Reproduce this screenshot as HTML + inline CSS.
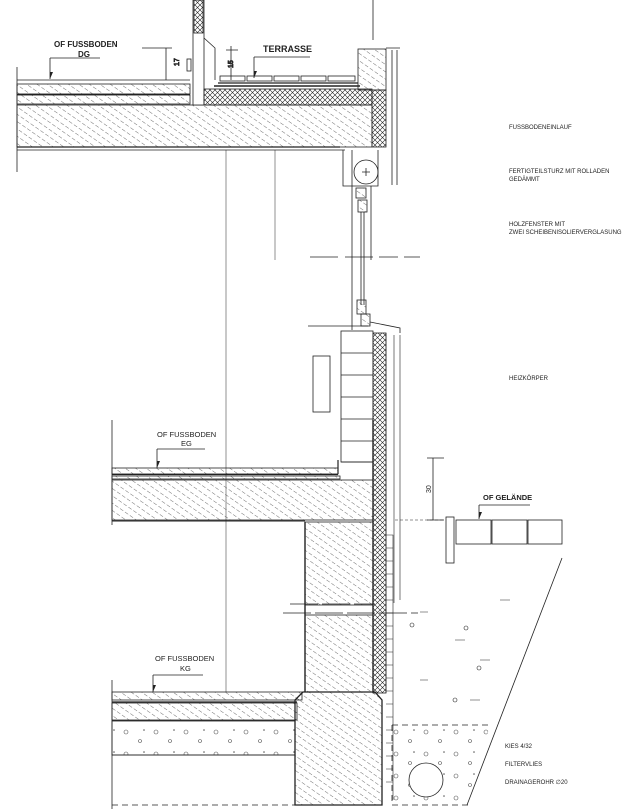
<!DOCTYPE html>
<html><head><meta charset="utf-8"><style>
html,body{margin:0;padding:0;background:#fff}
svg{display:block}
text{font-family:"Liberation Sans",sans-serif;fill:#222}
</style></head><body>
<svg width="642" height="809" viewBox="0 0 642 809" xmlns="http://www.w3.org/2000/svg">
<defs>
<pattern id="h" width="6" height="6" patternUnits="userSpaceOnUse" patternTransform="rotate(-55)">
<line x1="0" y1="0" x2="0" y2="4" stroke="#333" stroke-width="0.7"/></pattern>
<pattern id="x" width="5" height="5" patternUnits="userSpaceOnUse">
<path d="M0 0L5 5M5 0L0 5" stroke="#222" stroke-width="0.6"/></pattern>
<pattern id="g" width="30" height="22" patternUnits="userSpaceOnUse">
<circle cx="6" cy="6" r="2" fill="none" stroke="#555" stroke-width="0.6"/><circle cx="20" cy="15" r="1.5" fill="none" stroke="#555" stroke-width="0.6"/><circle cx="24" cy="4" r="0.8" fill="#555"/></pattern>
<clipPath id="soil"><path d="M392 725 H490 L467 805 H392Z"/></clipPath>
</defs>
<g stroke="#222" fill="none" stroke-width="0.8">
<!-- DG floor -->
<line x1="17" y1="67" x2="17" y2="172"/>
<line x1="17" y1="80" x2="190" y2="80"/>
<rect x="17" y="84" width="173" height="10" fill="url(#h)"/>
<rect x="17" y="95" width="173" height="9" fill="url(#h)"/>
<line x1="17" y1="94.5" x2="190" y2="94.5" stroke-width="1.5"/>
<rect x="17" y="105" width="355" height="42" fill="url(#h)"/>
<line x1="17" y1="147" x2="340" y2="147" stroke-width="1.3"/>
<line x1="17" y1="150" x2="345" y2="150"/>
<!-- wall stub -->
<rect x="193" y="0" width="11" height="105" fill="#fff"/>
<rect x="194" y="0" width="9" height="33" fill="url(#x)"/>
<path d="M204 38 L215 48 L215 80"/>
<rect x="187" y="59" width="4" height="12"/>
<!-- dims -->
<path d="M142 48 H172 M166 48 V80 M231 46 V80 M226 50 H238"/>
<text x="0" y="0" font-size="7" transform="translate(179,66) rotate(-90)">17</text>
<text x="0" y="0" font-size="7" transform="translate(233,68) rotate(-90)">15</text>
<!-- terrace -->
<path d="M218 83 H358" stroke-width="1.2"/>
<g><rect x="220" y="76" width="25" height="5"/><rect x="247" y="76" width="25" height="5"/><rect x="274" y="76" width="25" height="5"/><rect x="301" y="76" width="25" height="5"/><rect x="328" y="76" width="27" height="5"/></g>
<rect x="204" y="89" width="168" height="16" fill="url(#x)"/>
<path d="M214 86 H360" stroke-width="1.5"/>
<!-- parapet -->
<rect x="358" y="49" width="28" height="41" fill="url(#h)"/>
<rect x="372" y="90" width="14" height="57" fill="url(#x)"/>
<path d="M392 50 V185 M397 50 V185 M386 48 H400 M373 0 V40"/>
<!-- roller box -->
<path d="M343 150 V186 H378 V150"/>
<circle cx="366" cy="172" r="12"/>
<path d="M362 172 H370 M366 168 V176"/>
<rect x="356" y="188" width="10" height="10" fill="url(#h)"/>
<rect x="358" y="200" width="9" height="12" fill="url(#h)"/>
<path d="M361 212 V305 M364 212 V305 M352 150 V330 M371 186 V260"/>
<!-- break lines -->
<path d="M310 257 H340 M345 257 H398 M404 257 H420" stroke-dasharray="28 6"/>
<path d="M226 150 V692 M275 150 V260" stroke-width="0.5"/>
<!-- sill -->
<rect x="357" y="300" width="9" height="14" fill="url(#h)"/>
<rect x="361" y="314" width="9" height="12" fill="url(#h)"/>
<path d="M308 326 H368 M370 322 L400 328 V333"/>
<!-- EG wall -->
<rect x="341" y="331" width="32" height="131" fill="#fff"/>
<path d="M341 353 H373 M341 375 H373 M341 397 H373 M341 419 H373 M341 441 H373 M341 462 H373"/>
<rect x="373" y="333" width="13" height="360" fill="url(#x)"/>
<path d="M386 333 V693 M394 335 V603 M400 335 V600" stroke-width="0.6"/>
<rect x="313" y="356" width="17" height="56"/>
<!-- EG floor -->
<line x1="112" y1="420" x2="112" y2="525"/>
<rect x="112" y="468" width="226" height="6" fill="url(#h)"/>
<path d="M112 474.5 H338 M338 460 V474" stroke-width="1.2"/>
<rect x="112" y="476" width="228" height="3" fill="url(#h)"/>
<rect x="112" y="480" width="261" height="40" fill="url(#h)"/>
<line x1="112" y1="521" x2="305" y2="521" stroke-width="1.1"/>
<!-- KG walls -->
<rect x="305" y="522" width="68" height="83" fill="url(#h)"/>
<path d="M290 604 H375 M283 613 H418" stroke-dasharray="28 4"/>
<rect x="305" y="615" width="68" height="77" fill="url(#h)"/>
<path d="M305 522 V692 M373 420 V692" stroke-width="1.4"/>
<path d="M386 535 H393 V800 M386 548 H393 M386 561 H393 M386 574 H393 M386 587 H393 M386 600 H393 M386 613 H393 M386 626 H393 M386 639 H393 M386 652 H393 M386 665 H393 M386 678 H393 M386 691 H393 M386 704 H393 M386 717 H393 M386 730 H393 M386 743 H393 M386 756 H393 M386 769 H393 M386 782 H393" stroke-width="0.6"/>
<!-- KG floor -->
<line x1="112" y1="680" x2="112" y2="809"/>
<rect x="112" y="692" width="190" height="8" fill="url(#h)"/>
<path d="M112 702 H297" stroke-width="1.3"/>
<rect x="112" y="703" width="185" height="17" fill="url(#h)"/>
<rect x="112" y="721" width="183" height="34" fill="url(#g)"/>
<path d="M112 720.5 H295 M112 755 H295"/>
<path d="M303 692 L295 700 V805 H382 V700 L375 692 Z" fill="url(#h)" stroke-width="1.3"/>
<path d="M112 805 H300" stroke-dasharray="6 4"/>
<!-- soil -->
<path d="M392 725 H490" stroke-dasharray="6 4"/>
<path d="M392 725 V805 H470" stroke-dasharray="6 4"/>
<rect x="393" y="726" width="100" height="78" fill="url(#g)" stroke="none" clip-path="url(#soil)"/>
<path d="M562 558 L467 805"/>
<circle cx="426" cy="780" r="17" fill="#fff"/>
<path d="M420 612 H428 M455 640 H465 M420 680 H428 M470 700 H480 M500 600 H510 M480 660 H490" stroke-width="0.6"/>
<circle cx="412" cy="625" r="2" stroke-width="0.6"/><circle cx="466" cy="628" r="2" stroke-width="0.6"/><circle cx="479" cy="668" r="2" stroke-width="0.6"/><circle cx="455" cy="700" r="2" stroke-width="0.6"/>
<!-- ground -->
<path d="M427 458 H444 M433 458 V520 M427 520 H444"/>
<path d="M395 520 H445" stroke-dasharray="3 2" stroke-width="0.5"/>
<rect x="446" y="517" width="8" height="46"/>
<rect x="456" y="520" width="35" height="24"/><rect x="492" y="520" width="35" height="24"/><rect x="528" y="520" width="34" height="24"/>
<!-- level markers -->
<path d="M50 58 H100 M50 58 V79 M254 57 H310 M254 57 V78 M157 449 H205 M157 449 V468 M153 675 H203 M153 675 V692 M479 505 H530 M479 505 V519"/>
</g>
<g fill="#222">
<path d="M50 79 l3 -7 h-3z"/><path d="M254 78 l3 -7 h-3z"/><path d="M157 468 l3 -7 h-3z"/><path d="M153 692 l3 -7 h-3z"/><path d="M479 519 l3 -7 h-3z"/>
</g>
<text x="54" y="47" font-size="8" font-weight="bold">OF FUSSBODEN</text>
<text x="78" y="57" font-size="8" font-weight="bold">DG</text>
<text x="263" y="52" font-size="9" font-weight="bold">TERRASSE</text>
<text x="157" y="437" font-size="7.5">OF FUSSBODEN</text>
<text x="181" y="446" font-size="7.5">EG</text>
<text x="155" y="661" font-size="7.5">OF FUSSBODEN</text>
<text x="180" y="671" font-size="7.5">KG</text>
<text x="483" y="500" font-size="7.5" font-weight="bold">OF GELÄNDE</text>
<text x="0" y="0" font-size="7" transform="translate(431,493) rotate(-90)">30</text>
<text x="509" y="129" font-size="6">FUSSBODENEINLAUF</text>
<text x="509" y="173" font-size="6">FERTIGTEILSTURZ MIT ROLLADEN</text>
<text x="509" y="181" font-size="6">GEDÄMMT</text>
<text x="509" y="226" font-size="6">HOLZFENSTER MIT</text>
<text x="509" y="234" font-size="6">ZWEI SCHEIBENISOLIERVERGLASUNG</text>
<text x="509" y="380" font-size="6">HEIZKÖRPER</text>
<text x="505" y="748" font-size="6">KIES 4/32</text>
<text x="505" y="766" font-size="6">FILTERVLIES</text>
<text x="505" y="784" font-size="6">DRAINAGEROHR ∅20</text>
</svg>
</body></html>
